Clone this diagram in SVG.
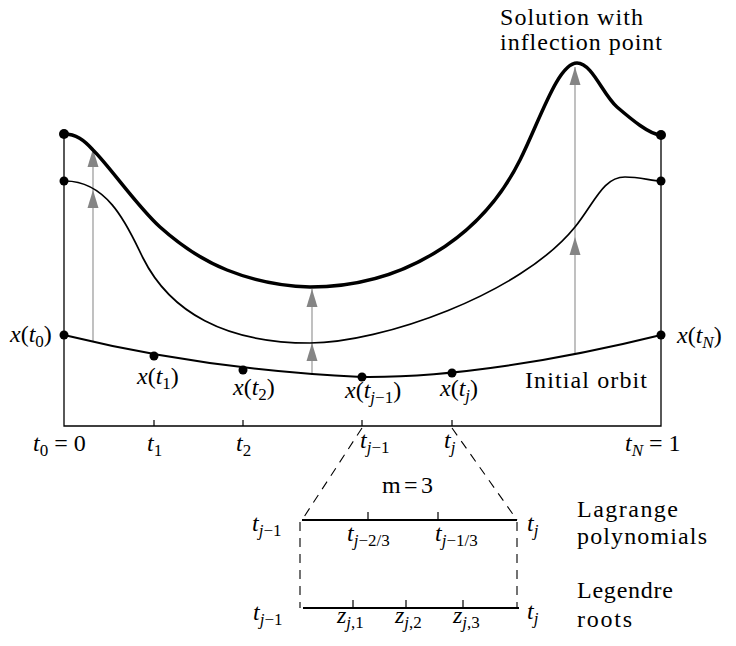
<svg xmlns="http://www.w3.org/2000/svg" width="736" height="646" viewBox="0 0 736 646">
<style>
text{font-family:"Liberation Serif","Times New Roman",serif;font-size:24px;fill:#000}
.i{font-style:italic}
.s{font-size:17px}
.ax{stroke:#000;stroke-width:1.3;fill:none}
.cv{stroke:#000;fill:none;stroke-linecap:round}
.ar{stroke:#a6a6a6;stroke-width:1.4;marker-end:url(#ah)}
.dl{stroke:#000;stroke-width:1.1;stroke-dasharray:9,7;fill:none}
.sg{stroke:#000;stroke-width:2.2}
.tk{stroke:#000;stroke-width:1.2}
</style>
<defs>
<marker id="ah" markerWidth="18" markerHeight="12" refX="18" refY="6" orient="auto" markerUnits="userSpaceOnUse"><path d="M0,0.5 L18,6 L0,11.5 z" fill="#858585"/></marker>
</defs>
<rect width="736" height="646" fill="#fff"/>
<g id="axes">
<path class="ax" d="M64,134 V426 H661 V135"/>
<path class="tk" d="M154,420V426M243,420V426M362,420V426M452,420V426"/>
</g>
<g id="connectors">
<line class="ar" x1="93" y1="342" x2="93" y2="190"/>
<line class="ar" x1="93" y1="190" x2="93" y2="149"/>
<line class="ar" x1="312" y1="375" x2="312" y2="343"/>
<line class="ar" x1="312" y1="343" x2="312" y2="289"/>
<line class="ar" x1="575" y1="353" x2="575" y2="237"/>
<line class="ar" x1="575" y1="237" x2="575" y2="67"/>
<path class="dl" d="M362,428 L302,520"/>
<path class="dl" d="M452,428 L517,520"/>
<path class="dl" d="M300,522 V608"/>
<path class="dl" d="M517,522 V608"/>
</g>
<g id="initial-orbit">
<path class="cv" stroke-width="2" d="M64,335 C150,356 250,372 362,377 C450,378 560,360 661,335"/>
<circle cx="64" cy="335" r="4.5"/><circle cx="154" cy="356" r="4.5"/><circle cx="243" cy="370" r="4.5"/><circle cx="362" cy="377" r="4.5"/><circle cx="452" cy="373" r="4.5"/><circle cx="661" cy="335" r="4.5"/>
</g>
<g id="middle-orbit">
<path class="cv" stroke-width="1.7" d="M64,181 C110,180 130,232 143,258 C170,312 225,343 310,343 C380,343 520,295 575,227 C595,202 603,177 625,177 C640,177 652,181 661,181"/>
<circle cx="64" cy="181" r="4.5"/><circle cx="661" cy="181" r="4.5"/>
</g>
<g id="solution">
<path class="cv" stroke-width="3.5" d="M64,134 C76,134 84,140 93,150 C109,165.5 137.7,207 160,227 C182.3,247 202,260 227,270 C252,280 281.2,286.2 310,287 C400,287 480,240 520,160 C540,120 558,63 577,63 C592,63 603,95 617,107 C631,119 650,135 661,135"/>
<circle cx="64" cy="134" r="5"/><circle cx="661" cy="135" r="5"/>
</g>
<g id="labels">
<text x="500" y="25" textLength="143">Solution with</text>
<text x="500" y="50" textLength="162">inflection point</text>
<text x="10" y="342"><tspan class="i">x</tspan>(<tspan class="i">t</tspan><tspan class="s" dy="5">0</tspan><tspan dy="-5">)</tspan></text>
<text x="137" y="384"><tspan class="i">x</tspan>(<tspan class="i">t</tspan><tspan class="s" dy="5">1</tspan><tspan dy="-5">)</tspan></text>
<text x="233" y="395"><tspan class="i">x</tspan>(<tspan class="i">t</tspan><tspan class="s" dy="5">2</tspan><tspan dy="-5">)</tspan></text>
<text x="345" y="398"><tspan class="i">x</tspan>(<tspan class="i">t</tspan><tspan class="s" dy="5"><tspan class="i">j</tspan>−1</tspan><tspan dy="-5">)</tspan></text>
<text x="440" y="396"><tspan class="i">x</tspan>(<tspan class="i">t</tspan><tspan class="s i" dy="5">j</tspan><tspan dy="-5">)</tspan></text>
<text x="525" y="388" textLength="122">Initial orbit</text>
<text x="677" y="343"><tspan class="i">x</tspan>(<tspan class="i">t</tspan><tspan class="s i" dy="5">N</tspan><tspan dy="-5">)</tspan></text>
<text x="33" y="451"><tspan class="i">t</tspan><tspan class="s" dy="5">0</tspan><tspan dy="-5"> = 0</tspan></text>
<text x="147" y="451"><tspan class="i">t</tspan><tspan class="s" dy="5">1</tspan></text>
<text x="236" y="451"><tspan class="i">t</tspan><tspan class="s" dy="5">2</tspan></text>
<text x="360" y="448"><tspan class="i">t</tspan><tspan class="s" dy="5"><tspan class="i">j</tspan>−1</tspan></text>
<text x="444" y="448"><tspan class="i">t</tspan><tspan class="s i" dy="5">j</tspan></text>
<text x="625" y="451"><tspan class="i">t</tspan><tspan class="s i" dy="5">N</tspan><tspan dy="-5"> = 1</tspan></text>
</g>
<g id="lagrange">
<line class="sg" x1="302" y1="520" x2="517" y2="520"/>
<path class="tk" d="M368,512V520M438,512V520"/>
<text x="382" y="493" textLength="51">m=3</text>
<text x="252" y="531"><tspan class="i">t</tspan><tspan class="s" dy="5"><tspan class="i">j</tspan>−1</tspan></text>
<text x="527" y="531"><tspan class="i">t</tspan><tspan class="s i" dy="5">j</tspan></text>
<text x="347" y="541"><tspan class="i">t</tspan><tspan class="s" dy="5"><tspan class="i">j</tspan>−2/3</tspan></text>
<text x="435" y="541"><tspan class="i">t</tspan><tspan class="s" dy="5"><tspan class="i">j</tspan>−1/3</tspan></text>
<text x="577" y="517" textLength="101">Lagrange</text>
<text x="577" y="544" textLength="130">polynomials</text>
</g>
<g id="legendre">
<line class="sg" x1="303" y1="608" x2="519" y2="608"/>
<path class="tk" d="M353,600V608M406,600V608M463,600V608"/>
<text x="253" y="620"><tspan class="i">t</tspan><tspan class="s" dy="5"><tspan class="i">j</tspan>−1</tspan></text>
<text x="527" y="619"><tspan class="i">t</tspan><tspan class="s i" dy="5">j</tspan></text>
<text x="337" y="623"><tspan class="i">z</tspan><tspan class="s" dy="5"><tspan class="i">j</tspan>,1</tspan></text>
<text x="395" y="623"><tspan class="i">z</tspan><tspan class="s" dy="5"><tspan class="i">j</tspan>,2</tspan></text>
<text x="453" y="623"><tspan class="i">z</tspan><tspan class="s" dy="5"><tspan class="i">j</tspan>,3</tspan></text>
<text x="577" y="598" textLength="96">Legendre</text>
<text x="577" y="627" textLength="55">roots</text>
</g>
</svg>
